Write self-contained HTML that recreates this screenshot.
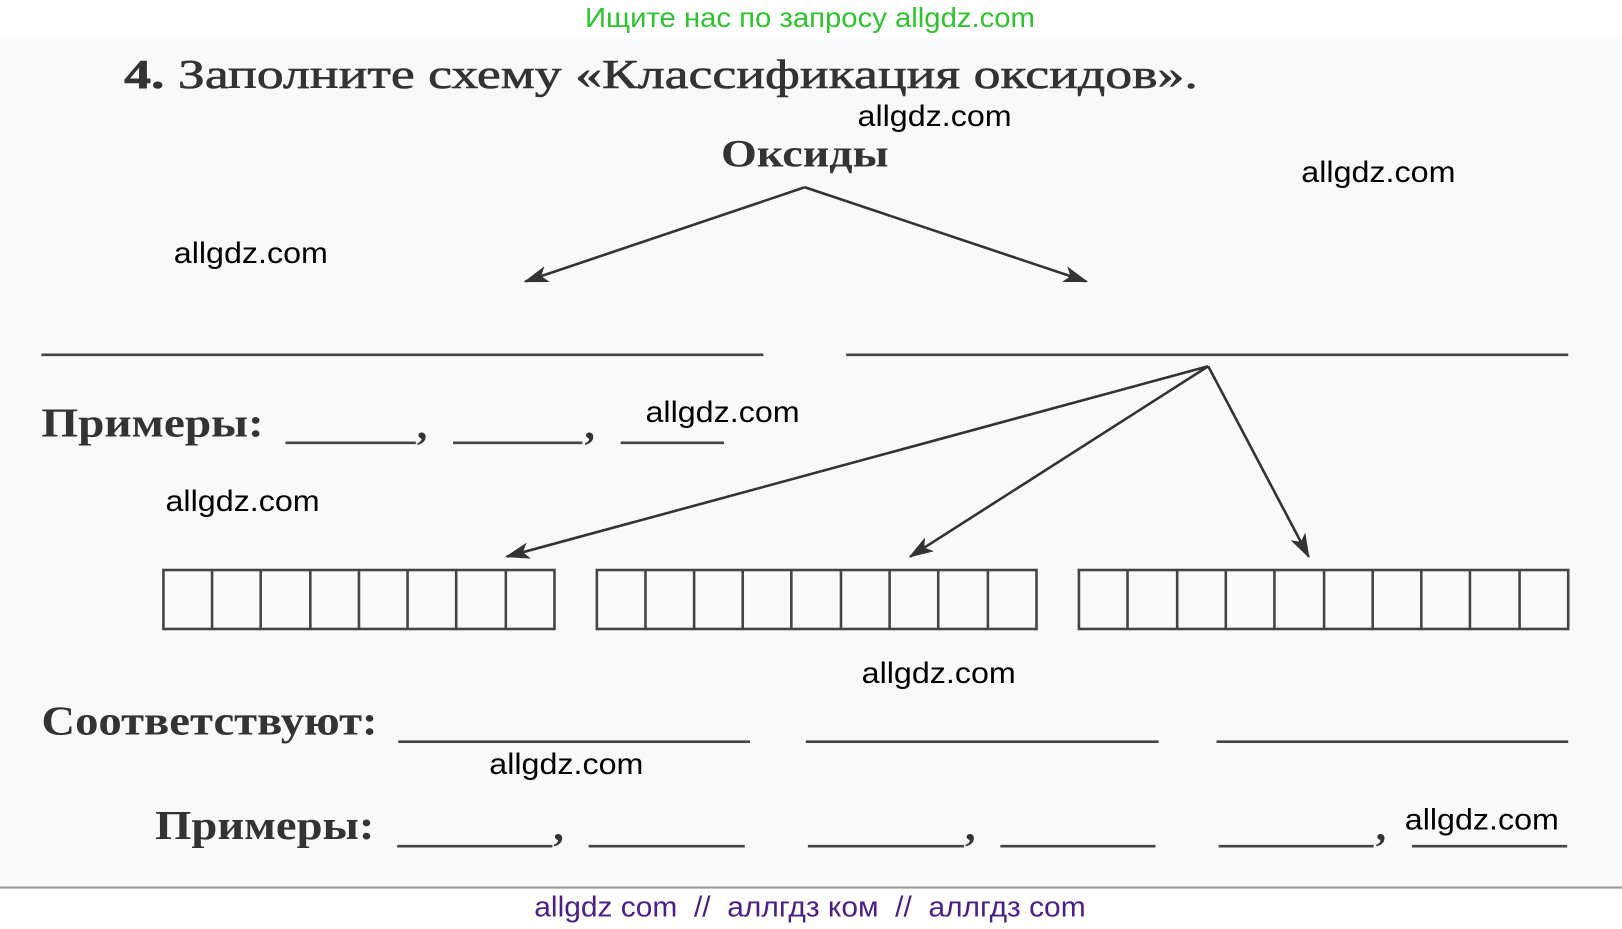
<!DOCTYPE html>
<html><head><meta charset="utf-8"><style>
html,body{margin:0;padding:0;background:#fff;}
svg{display:block}
.s{font-family:"Liberation Serif",serif;fill:#333;font-weight:bold}
.w{font-family:"Liberation Sans",sans-serif;fill:#000;font-size:29px}
</style></head><body>
<svg width="1622" height="929" viewBox="0 0 1568 898" xmlns="http://www.w3.org/2000/svg">
<defs>
<marker id="b" markerWidth="24" markerHeight="16" refX="22" refY="8" orient="auto" markerUnits="userSpaceOnUse"><path d="M0,0 L24,8 L0,16 L6,8 Z" fill="#333"/></marker></defs>
<rect x="0" y="0" width="1568" height="898" fill="#fff"/>
<rect x="0" y="38" width="1568" height="820" fill="#f8f9fb"/>
<line x1="0" y1="858" x2="1568" y2="858" stroke="#999" stroke-width="2"/>
<text x="783" y="26" text-anchor="middle" font-family="Liberation Sans,sans-serif" font-size="27" fill="#2ec42e" textLength="435" lengthAdjust="spacingAndGlyphs">Ищите нас по запросу allgdz.com</text>
<text x="783" y="886" text-anchor="middle" font-family="Liberation Sans,sans-serif" font-size="28" fill="#4b1f86" xml:space="preserve" textLength="533" lengthAdjust="spacingAndGlyphs">allgdz com  //  аллгдз ком  //  аллгдз com</text>
<text class="s" x="120" y="85" font-size="40" font-weight="normal" style="font-weight:normal;stroke:#333;stroke-width:0.6" textLength="1038" lengthAdjust="spacingAndGlyphs"><tspan font-weight="bold" style="font-weight:bold">4.</tspan> Заполните схему «Классификация оксидов».</text>
<text class="s" x="697" y="161" font-size="38" textLength="162" lengthAdjust="spacingAndGlyphs">Оксиды</text>
<g stroke="#333" stroke-width="2.5" fill="none">
<line x1="778" y1="181" x2="508" y2="272" marker-end="url(#b)"/>
<line x1="778" y1="181" x2="1050" y2="272" marker-end="url(#b)"/>
<line x1="1168" y1="354" x2="490" y2="538" marker-end="url(#b)"/>
<line x1="1168" y1="354" x2="880" y2="538" marker-end="url(#b)"/>
<line x1="1168" y1="354" x2="1265" y2="538" marker-end="url(#b)"/>
</g>
<g stroke="#444" stroke-width="2.5">
<line x1="40" y1="343" x2="738" y2="343"/><line x1="818" y1="343" x2="1516" y2="343"/>
<line x1="276" y1="428" x2="402" y2="428"/><line x1="438" y1="428" x2="563" y2="428"/><line x1="600" y1="428" x2="700" y2="428"/>
<line x1="385" y1="717" x2="725" y2="717"/><line x1="779" y1="717" x2="1120" y2="717"/><line x1="1176" y1="717" x2="1516" y2="717"/>
<line x1="384" y1="818" x2="534" y2="818"/><line x1="569" y1="818" x2="720" y2="818"/>
<line x1="781" y1="818" x2="932" y2="818"/><line x1="967" y1="818" x2="1117" y2="818"/>
<line x1="1178" y1="818" x2="1328" y2="818"/><line x1="1365" y1="818" x2="1515" y2="818"/>
</g>
<text class="s" x="40" y="422" font-size="40" textLength="215" lengthAdjust="spacingAndGlyphs">Примеры:</text>
<text class="s" x="403" y="424" font-size="40">,</text><text class="s" x="565" y="424" font-size="40">,</text>
<text class="s" x="40" y="710" font-size="40" textLength="325" lengthAdjust="spacingAndGlyphs">Соответствуют:</text>
<text class="s" x="150" y="811" font-size="40" textLength="212" lengthAdjust="spacingAndGlyphs">Примеры:</text>
<text class="s" x="535" y="812" font-size="40">,</text><text class="s" x="933" y="812" font-size="40">,</text><text class="s" x="1330" y="812" font-size="40">,</text>
<g fill="none" stroke="#444" stroke-width="2.5">
<rect x="158" y="551" width="378" height="57"/>
<path d="M205 551V608M252 551V608M300 551V608M347 551V608M394 551V608M441 551V608M489 551V608"/>
<rect x="577" y="551" width="425" height="57"/>
<path d="M624 551V608M671 551V608M718 551V608M765 551V608M813 551V608M860 551V608M907 551V608M955 551V608"/>
<rect x="1043" y="551" width="473" height="57"/>
<path d="M1090 551V608M1138 551V608M1185 551V608M1232 551V608M1280 551V608M1327 551V608M1374 551V608M1421 551V608M1469 551V608"/>
</g>
<g class="w">
<text class="w" x="829" y="122" textLength="149" lengthAdjust="spacingAndGlyphs">allgdz.com</text>
<text class="w" x="1258" y="176" textLength="149" lengthAdjust="spacingAndGlyphs">allgdz.com</text>
<text class="w" x="168" y="254" textLength="149" lengthAdjust="spacingAndGlyphs">allgdz.com</text>
<text class="w" x="624" y="408" textLength="149" lengthAdjust="spacingAndGlyphs">allgdz.com</text>
<text class="w" x="160" y="494" textLength="149" lengthAdjust="spacingAndGlyphs">allgdz.com</text>
<text class="w" x="833" y="660" textLength="149" lengthAdjust="spacingAndGlyphs">allgdz.com</text>
<text class="w" x="473" y="748" textLength="149" lengthAdjust="spacingAndGlyphs">allgdz.com</text>
<text class="w" x="1358" y="802" textLength="149" lengthAdjust="spacingAndGlyphs">allgdz.com</text>
</g>
</svg>
</body></html>
